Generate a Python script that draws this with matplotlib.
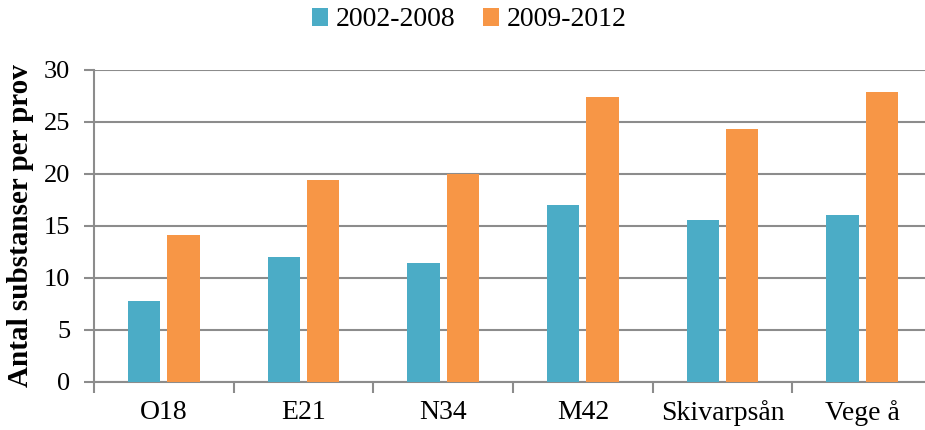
import matplotlib.pyplot as plt
import numpy as np

sites = ["O18", "E21", "N34", "M42", "Skivarpsån", "Vege å"]
period1 = [7.8, 12.0, 11.4, 17.0, 15.6, 16.1]
period2 = [14.1, 19.4, 20.0, 27.4, 24.3, 27.9]
labels = ["2002-2008", "2009-2012"]
yticks = [0, 5, 10, 15, 20, 25, 30]


def plot_chart():
    plt.rcParams['font.family'] = ['Liberation Serif', 'DejaVu Serif']
    fig = plt.figure(figsize=(9.25, 4.3), dpi=100)
    ax = fig.add_axes([94 / 925, 48 / 430, 838 / 925, 312 / 430])

    x = np.arange(len(sites))
    w = 0.232
    ax.bar(x - 0.14, period1, w, color='#4BACC6', label=labels[0], zorder=3)
    ax.bar(x + 0.14, period2, w, color='#F79646', label=labels[1], zorder=3)

    ax.set_xlim(-0.5, len(sites) - 0.5)
    ax.set_ylim(0, 30)
    ax.set_yticks(yticks)
    ax.set_yticklabels([str(v) for v in yticks], fontsize=19)
    ax.tick_params(axis='y', length=7, width=1.5, color='#8c8c8c', pad=10)

    ax.set_xticks(x)
    ax.set_xticklabels(sites, fontsize=20)
    ax.tick_params(axis='x', which='major', length=0, pad=13)
    ax.set_xticks(np.arange(len(sites) + 1) - 0.5, minor=True)
    ax.tick_params(axis='x', which='minor', length=8, width=1.5, color='#8c8c8c')

    ax.yaxis.grid(True, color='#8c8c8c', linewidth=1.5, zorder=0)
    for s in ['top', 'right']:
        ax.spines[s].set_visible(False)
    for s in ['left', 'bottom']:
        ax.spines[s].set_color('#8c8c8c')
        ax.spines[s].set_linewidth(1.5)

    ax.set_ylabel('Antal substanser per prov', fontsize=21, fontweight='bold')
    ax.yaxis.set_label_coords(-60 / 838, 0.5)

    fig.legend(loc='center', bbox_to_anchor=(469 / 925, 1 - 20 / 430), ncol=2,
               frameon=False, fontsize=20, handlelength=0.6, handleheight=0.6,
               handletextpad=0.25, columnspacing=1.0)

    fig.savefig('out.png', dpi=100)


if __name__ == '__main__':
    plot_chart()
